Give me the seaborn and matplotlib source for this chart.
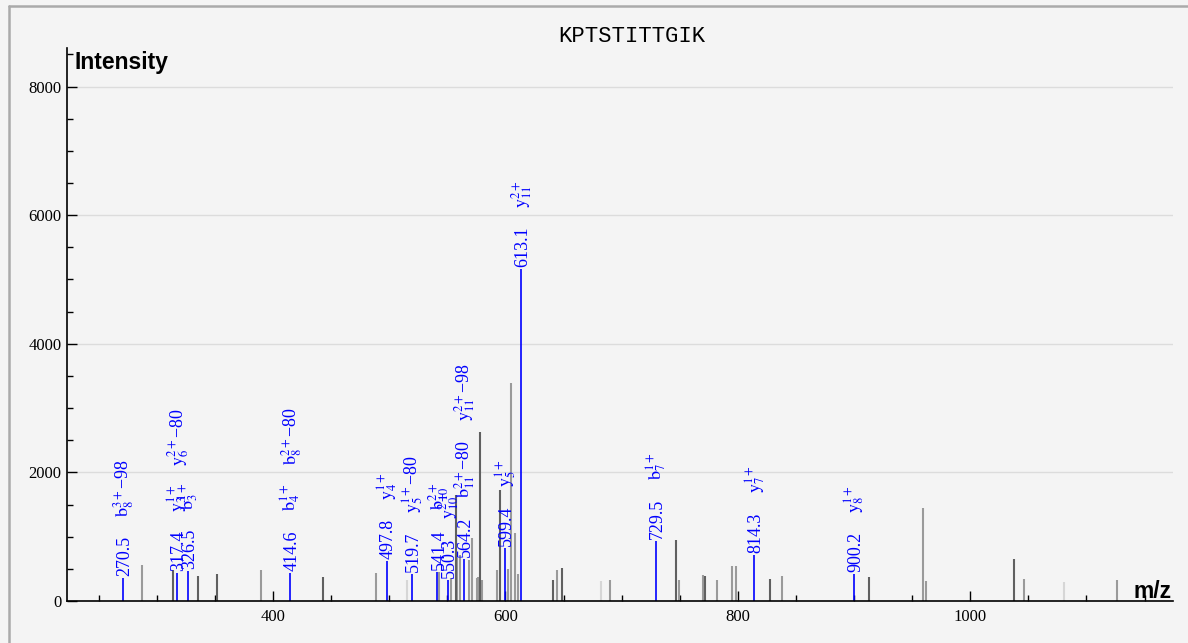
import matplotlib
matplotlib.use('Agg')
import matplotlib.pyplot as plt
from matplotlib.ticker import MultipleLocator
from matplotlib.lines import Line2D
import seaborn as sns

# Peptide shown in the title
peptide = 'KPTSTITTGIK'

# Matched (annotated) fragment peaks
matched_mz = [270.5, 317.4, 326.5, 414.6, 497.8, 519.7, 541.4, 550.3,
              564.2, 599.4, 613.1, 729.5, 814.3, 900.2]
matched_int = [358, 436, 467, 440, 627, 420, 456, 327,
               646, 825, 5163, 939, 721, 416]
matched_ions = [
    [r'$\mathrm{b}_{8}^{3+}$' + '\u221298'],
    [r'$\mathrm{y}_{3}^{1+}$', r'$\mathrm{y}_{6}^{2+}$' + '\u221280'],
    [r'$\mathrm{b}_{3}^{1+}$'],
    [r'$\mathrm{b}_{4}^{1+}$', r'$\mathrm{b}_{8}^{2+}$' + '\u221280'],
    [r'$\mathrm{y}_{4}^{1+}$'],
    [r'$\mathrm{y}_{5}^{1+}$' + '\u221280'],
    [r'$\mathrm{b}_{10}^{2+}$'],
    [r'$\mathrm{y}_{10}^{2+}$'],
    [r'$\mathrm{b}_{11}^{2+}$' + '\u221280', r'$\mathrm{y}_{11}^{2+}$' + '\u221298'],
    [r'$\mathrm{y}_{5}^{1+}$'],
    [r'$\mathrm{y}_{11}^{2+}$'],
    [r'$\mathrm{b}_{7}^{1+}$'],
    [r'$\mathrm{y}_{7}^{1+}$'],
    [r'$\mathrm{y}_{8}^{1+}$'],
]

# Unmatched peaks, grouped by how dark they are drawn
dark_mz = [314.2, 335.7, 352.1, 442.8, 557.1, 577.8, 595.6, 641.3, 649.0,
           746.9, 772.1, 828.1, 912.8, 1037.3]
dark_int = [482, 389, 420, 374, 1650, 2635, 1730, 327, 509,
            950, 389, 338, 374, 649]

mid_mz = [287.5, 389.4, 488.4, 542.6, 553.0, 558.6, 560.7, 568.5, 571.3,
          575.2, 576.5, 579.7, 592.6, 601.9, 604.7, 607.9, 610.5, 644.2,
          689.7, 749.7, 769.9, 781.9, 795.1, 798.6, 837.9, 959.3, 962.1,
          1046.5, 1126.5]
mid_int = [560, 482, 431, 456, 353, 670, 716, 638, 976,
           353, 378, 327, 482, 498, 3393, 1054, 420, 482,
           327, 327, 405, 327, 545, 545, 394, 1443, 316,
           347, 322]

light_mz = [515.1, 682.5, 1081.1]
light_int = [327, 311, 291]

# Style
sns.set_theme(style='white')
plt.rcParams['font.family'] = ['Liberation Serif', 'DejaVu Serif']
plt.rcParams['mathtext.fontset'] = 'stix'
plt.rcParams['text.color'] = 'black'
bg = '#f4f4f4'

W, H = 1188, 643
fig = plt.figure(figsize=(W / 100, H / 100), dpi=100, facecolor=bg)
ax = fig.add_axes([67 / W, 1 - 601 / H, (1173 - 67) / W, (601 - 48) / H])
ax.set_facecolor(bg)

# Peaks
ax.vlines(light_mz, 0, light_int, colors='#d6d6d6', lw=1.5)
ax.vlines(mid_mz, 0, mid_int, colors='#9a9a9a', lw=1.5)
ax.vlines(dark_mz, 0, dark_int, colors='#606060', lw=1.5)
ax.vlines(matched_mz, 0, matched_int, colors='blue', lw=1.2)

# Labels: m/z value first, ion names stacked above it
for mz, inten, ions in zip(matched_mz, matched_int, matched_ions):
    prev = ax.annotate(f'{mz:.1f}', xy=(mz, inten), xytext=(4.5, 1.5),
                       textcoords='offset points', rotation=90,
                       rotation_mode='anchor', ha='left', va='baseline',
                       color='blue', fontsize=13)
    for ion in ions:
        prev = ax.annotate(ion, xy=(mz, 1.0), xycoords=('data', prev),
                           xytext=(4.5, 13.5), textcoords='offset points',
                           rotation=90, rotation_mode='anchor', ha='left',
                           va='baseline', color='blue', fontsize=13)

# Axes
ax.set_xlim(222.7, 1174.5)
ax.set_ylim(0, 8600)
ax.xaxis.set_major_locator(MultipleLocator(200))
ax.xaxis.set_minor_locator(MultipleLocator(50))
ax.yaxis.set_major_locator(MultipleLocator(2000))
ax.yaxis.set_minor_locator(MultipleLocator(500))
ax.tick_params(axis='both', which='major', direction='in', length=7,
               width=1, color='black', labelsize=12, labelcolor='black')
ax.tick_params(axis='both', which='minor', direction='in', length=4.3,
               width=1, color='black')
ax.tick_params(axis='x', which='major', pad=6)
ax.tick_params(axis='y', which='major', pad=4)
ax.tick_params(axis='both', which='both', bottom=True, left=True)
ax.yaxis.grid(True, which='major', color='#dcdcdc', lw=1)
ax.set_axisbelow(True)
sns.despine(ax=ax)
for side in ['left', 'bottom']:
    ax.spines[side].set_color('black')
    ax.spines[side].set_linewidth(1.2)

# Titles and axis names
fig.text(632 / W, 1 - 37 / H, peptide, ha='center', va='center', color='black',
         family=['Liberation Mono', 'DejaVu Sans Mono'], fontsize=16)
fig.text(75 / W, 1 - 62 / H, 'Intensity', ha='left', va='center', color='black',
         family=['Liberation Sans', 'DejaVu Sans'], fontweight='bold', fontsize=16.5)
fig.text(1172 / W, 1 - 591 / H, 'm/z', ha='right', va='center', color='black',
         family=['Liberation Sans', 'DejaVu Sans'], fontweight='bold', fontsize=16.5)

# Frame lines at the top and left of the panel
fig.add_artist(Line2D([8.5 / W, 8.5 / W], [0, 1 - 6 / H], color='#aaaaaa', lw=1.8))
fig.add_artist(Line2D([8.5 / W, 1], [1 - 6 / H, 1 - 6 / H], color='#aaaaaa', lw=1.8))

fig.savefig('out.png', dpi=100, facecolor=bg)
